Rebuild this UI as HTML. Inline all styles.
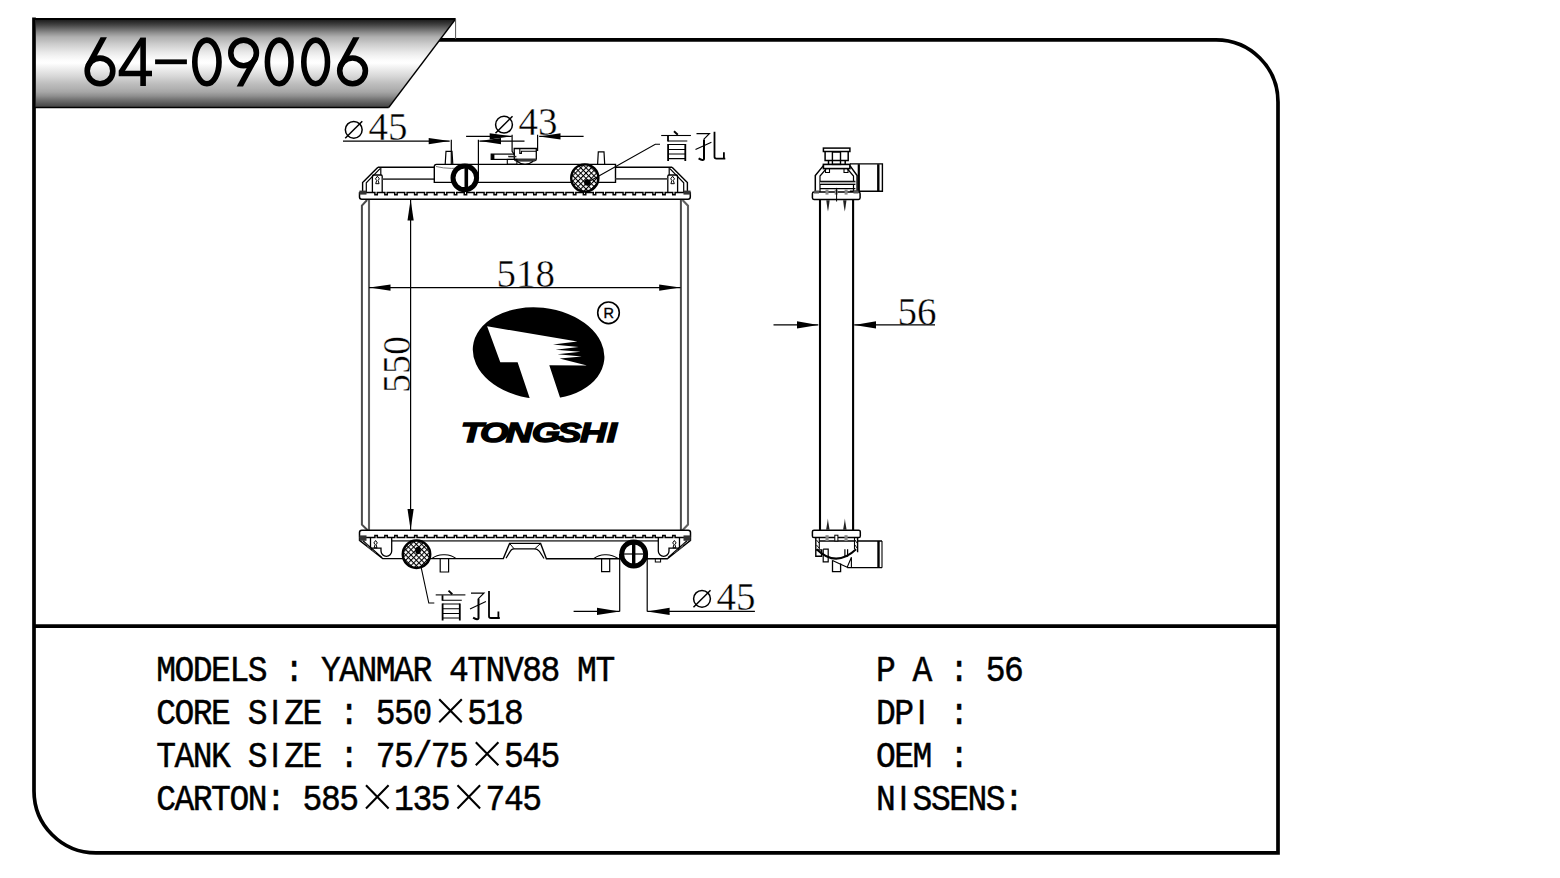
<!DOCTYPE html><html><head><meta charset="utf-8"><style>html,body{margin:0;padding:0;background:#fff;width:1560px;height:878px;overflow:hidden}svg{display:block}</style></head><body>
<svg width="1560" height="878" viewBox="0 0 1560 878">
<path d="M34,17.5 V790.9 A62,62 0 0 0 96,852.9 H1278 V101.9 A62,62 0 0 0 1216,39.9 H438" fill="none" stroke="#000" stroke-width="3.7"/>
<line x1="34" y1="626.1" x2="1278" y2="626.1" stroke="#000" stroke-width="3.7"/>
<defs>
<linearGradient id="bg" x1="0" y1="18" x2="0" y2="108" gradientUnits="userSpaceOnUse">
<stop offset="0" stop-color="#111"/>
<stop offset="0.0333" stop-color="#252525"/>
<stop offset="0.0778" stop-color="#444"/>
<stop offset="0.1222" stop-color="#6a6a6a"/>
<stop offset="0.1667" stop-color="#909090"/>
<stop offset="0.2111" stop-color="#b0b0b0"/>
<stop offset="0.2444" stop-color="#bbb"/>
<stop offset="0.2889" stop-color="#ccc"/>
<stop offset="0.3333" stop-color="#dadada"/>
<stop offset="0.3778" stop-color="#e8e8e8"/>
<stop offset="0.4222" stop-color="#f3f3f3"/>
<stop offset="0.4667" stop-color="#fcfcfc"/>
<stop offset="0.5000" stop-color="#fff"/>
<stop offset="0.5556" stop-color="#f0f0f0"/>
<stop offset="0.6000" stop-color="#e4e4e4"/>
<stop offset="0.6444" stop-color="#d8d8d8"/>
<stop offset="0.6889" stop-color="#cacaca"/>
<stop offset="0.7333" stop-color="#bdbdbd"/>
<stop offset="0.7778" stop-color="#b3b3b3"/>
<stop offset="0.8222" stop-color="#a6a6a6"/>
<stop offset="0.8667" stop-color="#8f8f8f"/>
<stop offset="0.9111" stop-color="#707070"/>
<stop offset="0.9556" stop-color="#555"/>
<stop offset="0.9833" stop-color="#484848"/>
<stop offset="1" stop-color="#222"/>
</linearGradient>
<pattern id="hatch" patternUnits="userSpaceOnUse" width="3.75" height="3.75" patternTransform="rotate(45)">
<rect width="3.75" height="3.75" fill="#fff"/>
<rect x="0" y="0" width="3.75" height="1.05" fill="#000"/>
<rect x="0" y="0" width="1.05" height="3.75" fill="#000"/>
</pattern>
</defs>
<polygon points="36,19 455.6,19 388.7,107.5 36,107.5" fill="url(#bg)"/>
<path d="M34,19 H455.6" fill="none" stroke="#000" stroke-width="2"/>
<path d="M455.6,19 L388.7,107.5" fill="none" stroke="#000" stroke-width="1.3"/>
<path d="M34,107.5 H388.7" fill="none" stroke="#000" stroke-width="1.4"/>
<line x1="455.6" y1="19" x2="455.6" y2="39" stroke="#555" stroke-width="1"/>
<g fill="#000"><circle cx="100" cy="70.9" r="12.8" fill="none" stroke="#000" stroke-width="5.6"/><polygon points="100.56,37.3 106.93,37.3 90.5,67.43 85.59,64.75"/><path d="M143.1,37.8 V86 M152,73.5 H121.5" stroke="#000" stroke-width="5.6" fill="none"/><polygon points="140.3,37.8 146,37.8 121.5,76.3 118.7,76.3 118.7,70.7 "/><rect x="155.1" y="59.4" width="31.8" height="4.8"/><ellipse cx="206.9" cy="61.9" rx="12.1" ry="21.8" fill="none" stroke="#000" stroke-width="5.6"/><g transform="rotate(180 243.6 61.9)"><circle cx="243.6" cy="70.9" r="12.8" fill="none" stroke="#000" stroke-width="5.6"/><polygon points="244.16,37.3 250.53,37.3 234.1,67.43 229.19,64.75"/></g><ellipse cx="279.2" cy="61.9" rx="11.8" ry="21.8" fill="none" stroke="#000" stroke-width="5.6"/><ellipse cx="315.65" cy="61.9" rx="11.85" ry="21.8" fill="none" stroke="#000" stroke-width="5.6"/><circle cx="352.55" cy="70.85" r="12.85" fill="none" stroke="#000" stroke-width="5.6"/><polygon points="353.11,37.3 359.5,37.3 343.02,67.33 338.11,64.64"/></g>
<g fill="#000"><text x="156.2 174.5 192.8 211.1 229.4 247.7 266 284.3 302.6 320.9 339.2 357.5 375.8 394.1 412.4 430.7 449 467.3 485.6 503.9 522.2 540.5 558.8 577.1 595.4" y="604.3766" transform="scale(1 1.12678)" font-family="Liberation Mono" font-size="33" stroke="#000" stroke-width="0.45" xml:space="preserve">MODELS : YANMAR 4TNV88 MT</text><text x="156.2 174.5 192.8 211.1 229.4 247.7 266 284.3 302.6 320.9 339.2 357.5 375.8 394.1 412.4" y="642.6272" transform="scale(1 1.12678)" font-family="Liberation Mono" font-size="33" stroke="#000" stroke-width="0.45" xml:space="preserve">CORE S<tspan font-family="Liberation Sans" font-size="31.6" x="270.76">I</tspan>ZE : 550</text><text x="467.3 485.6 503.9" y="642.6272" transform="scale(1 1.12678)" font-family="Liberation Mono" font-size="33" stroke="#000" stroke-width="0.45" xml:space="preserve">518</text><text x="156.2 174.5 192.8 211.1 229.4 247.7 266 284.3 302.6 320.9 339.2 357.5 375.8 394.1 412.4 430.7 449" y="680.7890" transform="scale(1 1.12678)" font-family="Liberation Mono" font-size="33" stroke="#000" stroke-width="0.45" xml:space="preserve">TANK S<tspan font-family="Liberation Sans" font-size="31.6" x="270.76">I</tspan>ZE : 75/75</text><text x="503.9 522.2 540.5" y="680.7890" transform="scale(1 1.12678)" font-family="Liberation Mono" font-size="33" stroke="#000" stroke-width="0.45" xml:space="preserve">545</text><text x="156.2 174.5 192.8 211.1 229.4 247.7 266 284.3 302.6 320.9 339.2" y="719.0395" transform="scale(1 1.12678)" font-family="Liberation Mono" font-size="33" stroke="#000" stroke-width="0.45" xml:space="preserve">CARTON: 585</text><text x="394.1 412.4 430.7" y="719.0395" transform="scale(1 1.12678)" font-family="Liberation Mono" font-size="33" stroke="#000" stroke-width="0.45" xml:space="preserve">135</text><text x="485.6 503.9 522.2" y="719.0395" transform="scale(1 1.12678)" font-family="Liberation Mono" font-size="33" stroke="#000" stroke-width="0.45" xml:space="preserve">745</text><text x="876 894.3 912.6 930.9 949.2 967.5 985.8 1004.1" y="604.3766" transform="scale(1 1.12678)" font-family="Liberation Mono" font-size="33" stroke="#000" stroke-width="0.45" xml:space="preserve">P A : 56</text><text x="876 894.3 912.6 930.9 949.2" y="642.6272" transform="scale(1 1.12678)" font-family="Liberation Mono" font-size="33" stroke="#000" stroke-width="0.45" xml:space="preserve">DP<tspan font-family="Liberation Sans" font-size="31.6" x="917.36">I</tspan> :</text><text x="876 894.3 912.6 930.9 949.2" y="680.7890" transform="scale(1 1.12678)" font-family="Liberation Mono" font-size="33" stroke="#000" stroke-width="0.45" xml:space="preserve">OEM :</text><text x="876 894.3 912.6 930.9 949.2 967.5 985.8 1004.1" y="719.0395" transform="scale(1 1.12678)" font-family="Liberation Mono" font-size="33" stroke="#000" stroke-width="0.45" xml:space="preserve">N<tspan font-family="Liberation Sans" font-size="31.6" x="899.06">I</tspan>SSENS:</text><text x="496.6" y="286.6" font-family="Liberation Serif" stroke="#fff" stroke-width="0.4" font-size="40.5" textLength="58.4" lengthAdjust="spacingAndGlyphs">518</text><text x="0" y="0" transform="translate(410 393) rotate(-90)" font-family="Liberation Serif" stroke="#fff" stroke-width="0.4" font-size="40.5" textLength="57" lengthAdjust="spacingAndGlyphs">550</text><text x="897.6" y="324.6" font-family="Liberation Serif" stroke="#fff" stroke-width="0.4" font-size="40.5" textLength="39" lengthAdjust="spacingAndGlyphs">56</text><text x="368.4" y="140.1" font-family="Liberation Serif" stroke="#fff" stroke-width="0.4" font-size="40" textLength="39" lengthAdjust="spacingAndGlyphs">45</text><text x="518.6" y="135.1" font-family="Liberation Serif" stroke="#fff" stroke-width="0.4" font-size="40" textLength="39" lengthAdjust="spacingAndGlyphs">43</text><text x="716.6" y="610" font-family="Liberation Serif" stroke="#fff" stroke-width="0.4" font-size="40" textLength="39" lengthAdjust="spacingAndGlyphs">45</text><text x="354.35 369.20 389.08 408.97 428.54 446.08 466.70" y="442.3" transform="scale(1.3 1)" font-family="Liberation Sans" font-weight="bold" font-style="italic" font-size="28.3" stroke="#000" stroke-width="1.4">TONGSHI</text><text x="603.4" y="318.2" font-family="Liberation Sans" font-size="14.5" stroke="#000" stroke-width="0.35">R</text><path d="M439.2,699.2 L461.8,722.3 M461.8,699.2 L439.2,722.3" stroke="#000" stroke-width="2.1" fill="none"/><path d="M475.8,742.2 L498.4,765.3 M498.4,742.2 L475.8,765.3" stroke="#000" stroke-width="2.1" fill="none"/><path d="M366,785.3 L388.6,808.4 M388.6,785.3 L366,808.4" stroke="#000" stroke-width="2.1" fill="none"/><path d="M457.5,785.3 L480.1,808.4 M480.1,785.3 L457.5,808.4" stroke="#000" stroke-width="2.1" fill="none"/></g>
<g fill="none" stroke="#000" stroke-linejoin="miter"><path d="M367.1,200 L361.9,205.7 V524.6 L367.7,530.2" stroke-width="2" stroke="#4a4a4a"/><path d="M369,199 V530.4" stroke-width="2.1" stroke="#606060"/><path d="M680.9,199 V530.4" stroke-width="2" stroke="#4a4a4a"/><path d="M682.5,200 L688,205.7 V524.6 L682.5,530.2" stroke-width="2.1" stroke="#606060"/><path d="M359.5,192.3 V197 Q359.5,199.2 361.7,199.2 H688.1 Q690.3,199.2 690.3,197 V192.3" stroke-width="1.5"/><path d="M359.5,192.4 H374.9 V194.65 H377.3 V192.4 H384.83 V194.65 H387.23 V192.4 H394.75 V194.65 H397.15 V192.4 H404.68 V194.65 H407.08 V192.4 H414.61 V194.65 H417.01 V192.4 H424.54 V194.65 H426.94 V192.4 H434.46 V194.65 H436.86 V192.4 H444.39 V194.65 H446.79 V192.4 H454.32 V194.65 H456.72 V192.4 H464.24 V194.65 H466.64 V192.4 H474.17 V194.65 H476.57 V192.4 H484.1 V194.65 H486.5 V192.4 H494.02 V194.65 H496.42 V192.4 H503.95 V194.65 H506.35 V192.4 H513.88 V194.65 H516.28 V192.4 H523.8 V194.65 H526.21 V192.4 H533.73 V194.65 H536.13 V192.4 H543.66 V194.65 H546.06 V192.4 H553.59 V194.65 H555.99 V192.4 H563.51 V194.65 H565.91 V192.4 H573.44 V194.65 H575.84 V192.4 H583.37 V194.65 H585.77 V192.4 H593.29 V194.65 H595.69 V192.4 H603.22 V194.65 H605.62 V192.4 H613.15 V194.65 H615.55 V192.4 H623.07 V194.65 H625.48 V192.4 H633 V194.65 H635.4 V192.4 H642.93 V194.65 H645.33 V192.4 H652.86 V194.65 H655.26 V192.4 H662.78 V194.65 H665.18 V192.4 H672.71 V194.65 H675.11 V192.4 H690.3" stroke-width="1.5"/><path d="M362.6,192.3 V182.6 L377.9,167.3" stroke-width="1.4"/><path d="M366.3,192.3 V182.8 L380.1,168.7" stroke-width="1.2"/><path d="M364.5,181.5 L366.5,179.5 M367.5,178.5 L369.5,176.5 M370.5,175.5 L372.5,173.5 M373.5,172.5 L375.5,170.5 M376.5,169.5 L378,168" stroke-width="0.9" stroke="#444"/><path d="M380.8,168 V175" stroke-width="1.2"/><path d="M372.4,192.3 V176.2 Q372.4,175 373.6,175 H381 Q382.2,175 382.2,176.2 V192.3" stroke-width="1.3"/><path d="M377.4,176.2 l-1.9,2.6 1.2,1.7 -1,3.2 h3.4 l-1,-3.2 1.2,-1.7 z" stroke-width="1"/><rect x="359.4" y="190.6" width="7.1" height="4" fill="#333" stroke="none"/><g transform="matrix(-1 0 0 1 1050 0)"><path d="M362.6,192.3 V182.6 L377.9,167.3" stroke-width="1.4"/><path d="M366.3,192.3 V182.8 L380.1,168.7" stroke-width="1.2"/><path d="M364.5,181.5 L366.5,179.5 M367.5,178.5 L369.5,176.5 M370.5,175.5 L372.5,173.5 M373.5,172.5 L375.5,170.5 M376.5,169.5 L378,168" stroke-width="0.9" stroke="#444"/><path d="M380.8,168 V175" stroke-width="1.2"/><path d="M372.4,192.3 V176.2 Q372.4,175 373.6,175 H381 Q382.2,175 382.2,176.2 V192.3" stroke-width="1.3"/><path d="M377.4,176.2 l-1.9,2.6 1.2,1.7 -1,3.2 h3.4 l-1,-3.2 1.2,-1.7 z" stroke-width="1"/><rect x="359.4" y="190.6" width="7.1" height="4" fill="#333" stroke="none"/></g><path d="M377.9,167.3 H434.3" stroke-width="1.4"/><path d="M382.2,179.1 H434.3" stroke-width="1.6" stroke="#444"/><path d="M434.3,182.4 V166.6 Q434.3,164.4 436.5,164.4 H615.5 V182.4 Z" stroke-width="1.4"/><path d="M436,166.5 Q450,170 470,167" stroke-width="1" stroke="#777"/><path d="M615.5,167.3 H672.1" stroke-width="1.4"/><path d="M615.5,178.9 H667.8" stroke-width="1.6" stroke="#444"/><path d="M445.2,164.4 L446,151.3 H452 L452.8,164.4" stroke-width="1.2"/><path d="M597.6,164.4 L598.3,151.8 H604 L604.7,164.4" stroke-width="1.2"/><circle cx="464.8" cy="177.8" r="11.8" stroke-width="5" fill="#fff"/><path d="M466.3,164.5 V190.5" stroke-width="3.6"/><path d="M451.3,139.8 V164.4 M478.4,139.8 V177.8" stroke-width="1.2"/><path d="M514.2,148.5 H536.3 V159 Q536.3,160.8 534.5,160.8 H516 Q514.6,160.8 514.4,159 Z" stroke-width="1.3" fill="#fff"/><path d="M519.8,149 V153.4 H521.4 V151.3 H536" stroke-width="1.1"/><path d="M514.6,159.5 H536" stroke-width="2" stroke="#333"/><path d="M516.9,161.2 Q525,167.5 533.3,161.2" stroke-width="1.3"/><rect x="491.2" y="154.1" width="23" height="5.3" stroke-width="1.2" fill="#fff"/><rect x="491.2" y="154.1" width="3.2" height="5.3" fill="#000" stroke="none"/><rect x="507.3" y="159.4" width="9.6" height="4.9" stroke-width="1.1"/><path d="M508.2,156.6 H516.4" stroke-width="1.5" stroke="#222"/><path d="M512.1,134.7 V151.4 L514.4,154.6 M537.6,134.7 V151" stroke-width="1.2"/><circle cx="584.8" cy="178" r="13.6" fill="url(#hatch)" stroke-width="2.4"/><circle cx="587.3" cy="182.4" r="3.2" fill="#000" stroke="none"/><path d="M587.3,182.4 L655.3,144.3 H660" stroke-width="1.1"/><path d="M359.5,537.4 V532.6 Q359.5,530.3 361.8,530.3 H688.2 Q690.5,530.3 690.5,532.6 V537.4" stroke-width="1.5"/><path d="M359.5,537.4 H374.9 V535.5 H377.3 V537.4 H384.83 V535.5 H387.23 V537.4 H394.75 V535.5 H397.15 V537.4 H404.68 V535.5 H407.08 V537.4 H414.61 V535.5 H417.01 V537.4 H424.54 V535.5 H426.94 V537.4 H434.46 V535.5 H436.86 V537.4 H444.39 V535.5 H446.79 V537.4 H454.32 V535.5 H456.72 V537.4 H464.24 V535.5 H466.64 V537.4 H474.17 V535.5 H476.57 V537.4 H484.1 V535.5 H486.5 V537.4 H494.02 V535.5 H496.42 V537.4 H503.95 V535.5 H506.35 V537.4 H513.88 V535.5 H516.28 V537.4 H523.8 V535.5 H526.21 V537.4 H533.73 V535.5 H536.13 V537.4 H543.66 V535.5 H546.06 V537.4 H553.59 V535.5 H555.99 V537.4 H563.51 V535.5 H565.91 V537.4 H573.44 V535.5 H575.84 V537.4 H583.37 V535.5 H585.77 V537.4 H593.29 V535.5 H595.69 V537.4 H603.22 V535.5 H605.62 V537.4 H613.15 V535.5 H615.55 V537.4 H623.07 V535.5 H625.48 V537.4 H633 V535.5 H635.4 V537.4 H642.93 V535.5 H645.33 V537.4 H652.86 V535.5 H655.26 V537.4 H662.78 V535.5 H665.18 V537.4 H672.71 V535.5 H675.11 V537.4 H690.5" stroke-width="1.5"/><path d="M391.7,540.9 H658.3" stroke-width="1.8" stroke="#555"/><path d="M359.5,537.4 V540.4 L382.7,558.6 H503.3 L509.6,543.4 H540.6 L546.4,558.7 H667.3 L690.5,540.4 V537.4" stroke-width="1.4"/><path d="M506,558.2 C510.5,551 511,548.8 514.1,548.8 H534.8 C538,548.8 539.5,551 544,558.5" stroke-width="1.2"/><path d="M509.6,543.4 L514.1,548.8 M540.6,543.4 L534.8,548.8" stroke-width="1"/><path d="M363,540.8 L379.3,555.1 L381.8,557.5" stroke-width="1.2"/><path d="M370.5,537.5 V548.2 H381 V551 A5.35,5.35 0 0 0 391.7,551 V537.5" stroke-width="1.3"/><path d="M375.6,540.5 l-1.7,2.4 1.2,1.6 -0.9,3.3 h2.8 l-0.9,-3.3 1.2,-1.6 z" stroke-width="1"/><rect x="359.5" y="535.4" width="7" height="5.4" fill="#333" stroke="none"/><path d="M365,542.5 L368,545.5 M367,546 L371,549.5 M372,550 L376,553" stroke-width="0.9" stroke="#555"/><g transform="matrix(-1 0 0 1 1050 0)"><path d="M363,540.8 L379.3,555.1 L381.8,557.5" stroke-width="1.2"/><path d="M370.5,537.5 V548.2 H381 V551 A5.35,5.35 0 0 0 391.7,551 V537.5" stroke-width="1.3"/><path d="M375.6,540.5 l-1.7,2.4 1.2,1.6 -0.9,3.3 h2.8 l-0.9,-3.3 1.2,-1.6 z" stroke-width="1"/><rect x="359.5" y="535.4" width="7" height="5.4" fill="#333" stroke="none"/><path d="M365,542.5 L368,545.5 M367,546 L371,549.5 M372,550 L376,553" stroke-width="0.9" stroke="#555"/></g><rect x="655.3" y="558.5" width="5.3" height="3.5" stroke-width="1"/><circle cx="416.5" cy="554.2" r="13.7" fill="url(#hatch)" stroke-width="2.5"/><ellipse cx="418" cy="550.4" rx="2.8" ry="3.6" fill="#000" stroke="none"/><path d="M421.2,567.7 L428.8,603 H434.3" stroke-width="1.1"/><path d="M432,558.5 Q437,554.5 444,554.8 Q451,554.5 455.8,558.5" stroke-width="1.1"/><path d="M440.2,558.8 V572 H448.6 V558.8" stroke-width="1.2"/><path d="M594,558.5 Q599,554.5 605.6,554.8 Q612,554.5 618,558.5" stroke-width="1.1"/><path d="M601.6,558.8 V571.7 H609.7 V558.8" stroke-width="1.2"/><circle cx="633.7" cy="554" r="12" stroke-width="4.8" fill="#fff"/><path d="M633.7,541 V567" stroke-width="3.4"/><path d="M620.5,554 H647" stroke-width="1.2"/><path d="M619.7,554 V611.4 M647.2,554 V611.4" stroke-width="1.2"/></g>
<g fill="#000"><path d="M343,141.1 H449.7 M524.5,141.1 H479.4 M466.1,136.3 H511.7 M583.6,136.4 H539.2" stroke="#000" stroke-width="1.2" fill="none"/><polygon points="449.7,141.1 428.7,138 428.7,144.2"/><polygon points="479.4,141.1 501,138 501,144.2"/><polygon points="511.7,136.3 489.7,133.2 489.7,139.4"/><polygon points="539.2,136.4 560.5,133.3 560.5,139.5"/><path d="M410.6,199.5 V530" stroke="#000" stroke-width="1.2" fill="none"/><polygon points="410.6,199.5 407.5,220.5 413.7,220.5"/><polygon points="410.6,530 407.5,509 413.7,509"/><path d="M369,287.6 H680.6" stroke="#000" stroke-width="1.2" fill="none"/><polygon points="369.5,287.6 390.5,284.5 390.5,290.7"/><polygon points="680.2,287.6 659.2,284.5 659.2,290.7"/><path d="M773.5,324.9 H818.3 M935,324.9 H854.2" stroke="#000" stroke-width="1.3" fill="none"/><polygon points="818.3,324.9 797,321.2 797,328.6"/><polygon points="854.2,324.9 876,321.2 876,328.6"/><path d="M573.6,611.4 H619.7 M754.9,611.4 H647.2" stroke="#000" stroke-width="1.3" fill="none"/><polygon points="619.7,611.4 597,607.8 597,615"/><polygon points="647.2,611.4 669.6,607.8 669.6,615"/><circle cx="353.75" cy="129.8" r="8.4" fill="none" stroke="#000" stroke-width="1.5"/><line x1="345.21" y1="138.34" x2="362.29" y2="121.26" stroke="#000" stroke-width="1.5"/><circle cx="504" cy="124.7" r="8.4" fill="none" stroke="#000" stroke-width="1.5"/><line x1="495.46" y1="133.24" x2="512.54" y2="116.16" stroke="#000" stroke-width="1.5"/><circle cx="702" cy="598.8" r="8.4" fill="none" stroke="#000" stroke-width="1.5"/><line x1="693.46" y1="607.34" x2="710.54" y2="590.26" stroke="#000" stroke-width="1.5"/></g>
<g fill="none" stroke="#000"><path d="M820,199.5 V530.4 M853.1,199.5 V530.4" stroke-width="2.1"/><rect x="812.4" y="192.1" width="47.7" height="7.3" rx="1.6" stroke-width="1.5"/><path d="M849.9,163.9 H882.4 V191.3 H849.9" stroke-width="1.4"/><path d="M858.8,164.2 V191" stroke-width="2.2"/><path d="M878.3,164.2 V191" stroke-width="2.4"/><path d="M815.3,192.1 V175.5 L823.4,165.6 M849.9,165.6 L857.1,175.5 V192.1" stroke-width="1.5" fill="#fff"/><path d="M820,192 V176 L826,169 M853.5,192 V176 L847.5,169" stroke-width="1.2"/><rect x="823.4" y="164.4" width="26.5" height="4.2" stroke-width="1.6"/><path d="M825.5,168.6 V172.5 H829.5 V168.6 M844,168.6 V172.5 H848 V168.6" stroke-width="1.1"/><path d="M820,181.5 H855.4 M820,184.4 H855.4" stroke-width="1.3"/><rect x="820" y="181.9" width="35.4" height="2.1" fill="#aaa" stroke="none"/><path d="M820,188.7 H855.4" stroke-width="1.3"/><rect x="825.5" y="189.4" width="3" height="5.2" fill="#888" stroke="none"/><rect x="834.7" y="189.4" width="3" height="5.2" fill="#888" stroke="none"/><rect x="844.6" y="189.4" width="3" height="5.2" fill="#888" stroke="none"/><rect x="814" y="190.5" width="5" height="3" fill="#555" stroke="none"/><rect x="853.5" y="190.5" width="5" height="3" fill="#555" stroke="none"/><path d="M836.6,187.9 V201.5" stroke-width="1"/><polygon points="826.3,200.3 829.7,200.3 828.6,208 828,211.4 827.3,208" fill="#222" stroke="none"/><polygon points="843.1,200.3 846.5,200.3 845.4,208 844.8,211.4 844.1,208" fill="#222" stroke="none"/><rect x="823.4" y="148.1" width="26.5" height="3.4" stroke-width="1.5"/><path d="M825.1,151.5 V160.5 H828.5 V164.4 M848.2,151.5 V160.5 H845.2 V164.4 M828.5,160.5 H845.2" stroke-width="1.5"/><rect x="832.4" y="152" width="8.1" height="12.4" stroke-width="1.4"/><rect x="812.4" y="530.2" width="47.9" height="7.3" rx="1.6" stroke-width="1.5"/><polygon points="826.1,529.8 829.6,529.8 828.3,522 827.9,518.4 827.4,522" fill="#222" stroke="none"/><polygon points="843.1,529.8 846.6,529.8 845.3,522 844.9,518.4 844.4,522" fill="#222" stroke="none"/><path d="M815.8,537.5 V556.3 H821.6 V549.9 H815.8 M857.6,537.5 V552.2" stroke-width="1.4"/><path d="M819.3,537.5 V549 M854.5,537.5 V549" stroke-width="1.1"/><path d="M816.5,545 L819,548 M816.5,540 L819,543 M855,545 L857,548 M855,540 L857,543" stroke-width="0.9"/><path d="M819.3,541 H855.3" stroke-width="1.5"/><rect x="825.5" y="535.2" width="3.1" height="5.8" fill="#888" stroke="none"/><rect x="834.8" y="535.2" width="3.1" height="5.8" stroke-width="1" fill="#fff"/><rect x="844.5" y="535.2" width="3.1" height="5.8" fill="#888" stroke="none"/><path d="M816.6,549.2 Q836,568 856.1,549.2" stroke-width="2"/><path d="M823.2,549.2 V561.9 H828.2 V549.2 H823.2 M844.9,549.2 V556.1 H847.6 V549.2" stroke-width="1.2"/><path d="M832.5,560.2 V571.6 H840.6 V563.5" stroke-width="1.3"/><path d="M832.5,560.4 L847.2,567.3 L851.4,557.3 V567.7" stroke-width="1.1"/><path d="M857.6,541 H882 M847.2,567.7 H882" stroke-width="1.3"/><path d="M878.5,541 V567.7" stroke-width="2.4"/><path d="M882,541 V567.7" stroke-width="1.1"/></g>
<ellipse cx="538.6" cy="353.2" rx="66" ry="45.6" transform="rotate(6 538.6 353.2)" fill="#000"/>
<polygon fill="#fff" points="487.1,326.3 577.4,341.5 553,344.5 578.6,346.9 555.5,349.8 580.4,351.7 557.5,354.2 581.8,356.5 559.5,358.5 587,365.6 549.3,365.2 561.5,402 531,402 517.6,362.2 500.3,362.2"/>
<circle cx="608.5" cy="312.8" r="10.8" fill="none" stroke="#000" stroke-width="1.6"/>
<g fill="none" stroke="#000" stroke-linecap="butt">
<path d="M674,131.2 L677.8,134.8" stroke-width="1.9"/>
<path d="M661.2,135.5 H690.9" stroke-width="1.1"/>
<path d="M668,135.8 V141.4 M668.1,144 V161 M685.3,144 V161" stroke-width="1.8"/>
<path d="M668,140.9 H687.3 M668,144.5 H685.3 M668,149.4 H685.3 M668,154 H685.3 M668,158.6 H685.3" stroke-width="1.05"/>
<path d="M696.5,133.7 H709.4 L703.7,139.4" stroke-width="1.2"/>
<path d="M704,139.4 V159 Q703.5,161.2 698.6,158.3" stroke-width="2"/>
<path d="M695.5,149.6 L711.4,142.2" stroke-width="1.1"/>
<path d="M714.5,131.7 V156.8 Q714.5,158.6 716.5,158.6 H725.3 M723.9,152.2 V158.3" stroke-width="1.8"/>
</g>
<g transform="translate(-225.5 459.4)"><g fill="none" stroke="#000" stroke-linecap="butt">
<path d="M674,131.2 L677.8,134.8" stroke-width="1.9"/>
<path d="M661.2,135.5 H690.9" stroke-width="1.1"/>
<path d="M668,135.8 V141.4 M668.1,144 V161 M685.3,144 V161" stroke-width="1.8"/>
<path d="M668,140.9 H687.3 M668,144.5 H685.3 M668,149.4 H685.3 M668,154 H685.3 M668,158.6 H685.3" stroke-width="1.05"/>
<path d="M696.5,133.7 H709.4 L703.7,139.4" stroke-width="1.2"/>
<path d="M704,139.4 V159 Q703.5,161.2 698.6,158.3" stroke-width="2"/>
<path d="M695.5,149.6 L711.4,142.2" stroke-width="1.1"/>
<path d="M714.5,131.7 V156.8 Q714.5,158.6 716.5,158.6 H725.3 M723.9,152.2 V158.3" stroke-width="1.8"/>
</g></g>
</svg></body></html>
